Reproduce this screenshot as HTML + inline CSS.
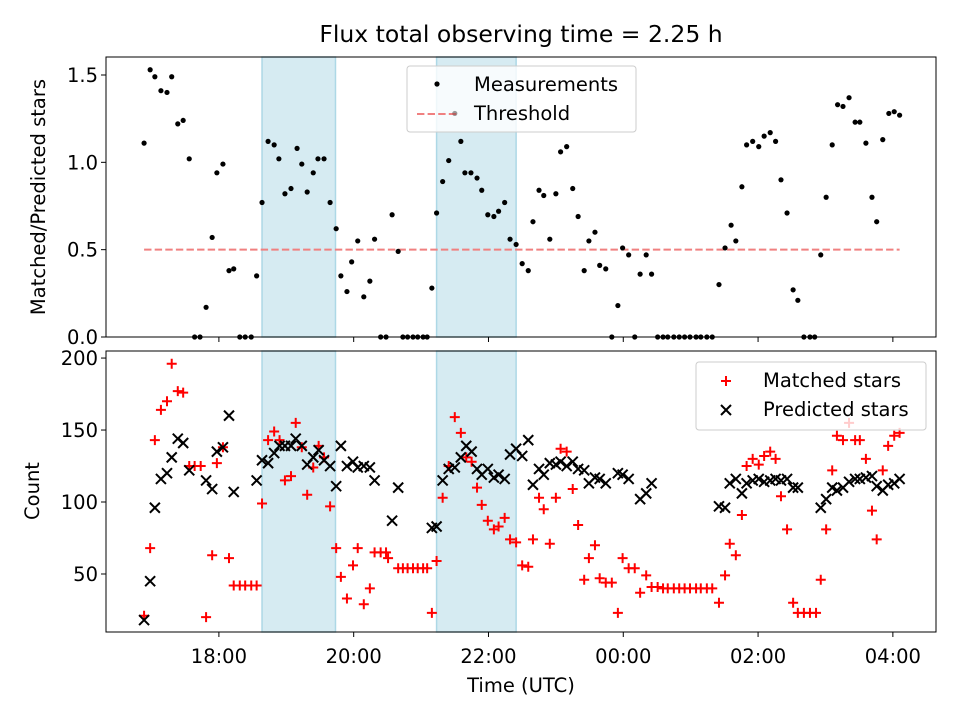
<!DOCTYPE html>
<html><head><meta charset="utf-8"><style>
html,body{margin:0;padding:0;background:#fff}
svg{display:block;font-family:"DejaVu Sans","Liberation Sans",sans-serif}
</style></head><body>
<svg id="chart" width="960" height="720" viewBox="0 0 960 720" xmlns="http://www.w3.org/2000/svg"></svg>
<script>
// times in hours after 16:00 UTC
const ratioTimes=[0.89,0.98,1.05,1.14,1.23,1.30,1.39,1.47,1.56,1.64,1.72,1.81,1.90,1.97,2.06,2.15,2.22,2.31,2.39,2.48,2.56,2.64,2.73,2.82,2.89,2.98,3.07,3.16,3.23,3.31,3.40,3.47,3.56,3.65,3.74,3.81,3.90,3.97,4.06,4.15,4.24,4.31,4.40,4.48,4.57,4.66,4.73,4.80,4.88,4.95,5.03,5.09,5.16,5.23,5.32,5.41,5.50,5.59,5.65,5.74,5.83,5.90,5.99,6.08,6.15,6.24,6.32,6.41,6.50,6.59,6.66,6.75,6.82,6.91,7.00,7.07,7.16,7.25,7.33,7.42,7.49,7.58,7.65,7.74,7.83,7.92,7.99,8.08,8.17,8.25,8.34,8.42,8.51,8.59,8.66,8.75,8.83,8.91,8.99,9.08,9.15,9.24,9.32,9.42,9.51,9.60,9.67,9.76,9.83,9.92,10.01,10.09,10.18,10.26,10.34,10.43,10.52,10.59,10.68,10.77,10.84,10.93,11.01,11.10,11.18,11.26,11.35,11.44,11.51,11.60,11.69,11.76,11.85,11.94,12.02,12.10];
const ratioValues=[1.11,1.53,1.49,1.41,1.40,1.49,1.22,1.24,1.02,0,0,0.17,0.57,0.94,0.99,0.38,0.39,0,0,0,0.35,0.77,1.12,1.10,1.02,0.82,0.85,1.08,0.99,0.83,0.94,1.02,1.02,0.77,0.62,0.35,0.26,0.43,0.55,0.23,0.32,0.56,0,0,0.70,0.49,0,0,0,0,0,0,0.28,0.71,0.89,1.01,1.28,1.12,0.94,0.94,0.91,0.84,0.70,0.69,0.72,0.77,0.56,0.53,0.42,0.38,0.66,0.84,0.81,0.56,0.82,1.06,1.09,0.85,0.69,0.38,0.55,0.60,0.41,0.39,0,0.18,0.51,0.47,0,0.36,0.47,0.36,0,0,0,0,0,0,0,0,0,0,0,0.30,0.51,0.64,0.55,0.86,1.10,1.12,1.09,1.15,1.17,1.12,0.90,0.71,0.27,0.21,0,0,0,0.47,0.80,1.10,1.33,1.32,1.37,1.23,1.23,1.11,0.80,0.66,1.13,1.28,1.29,1.27];
const thresholdValue=0.5;
const matchedTimes=[0.89,0.98,1.05,1.14,1.23,1.30,1.39,1.47,1.56,1.64,1.73,1.81,1.90,1.97,2.06,2.15,2.22,2.31,2.39,2.48,2.56,2.64,2.73,2.82,2.90,2.98,3.07,3.14,3.23,3.31,3.40,3.48,3.56,3.65,3.74,3.81,3.90,3.99,4.06,4.15,4.24,4.31,4.40,4.48,4.51,4.66,4.73,4.80,4.88,4.95,5.03,5.09,5.16,5.23,5.32,5.41,5.50,5.59,5.67,5.75,5.83,5.90,5.99,6.08,6.15,6.24,6.32,6.41,6.50,6.59,6.66,6.75,6.82,6.91,7.00,7.07,7.16,7.25,7.33,7.42,7.49,7.58,7.65,7.74,7.83,7.92,7.99,8.08,8.17,8.25,8.34,8.42,8.51,8.59,8.66,8.75,8.83,8.91,8.99,9.08,9.15,9.24,9.32,9.42,9.51,9.58,9.67,9.76,9.83,9.92,10.01,10.09,10.18,10.26,10.34,10.43,10.52,10.59,10.68,10.77,10.86,10.93,11.01,11.10,11.17,11.26,11.35,11.44,11.51,11.60,11.69,11.76,11.85,11.93,12.02,12.10];
const matchedValues=[21,68,143,164,170,196,177,176,125,125,125,20,63,127,138,61,42,42,42,42,42,99,143,149,143,115,118,155,138,105,124,139,131,97,68,48,33,56,68,29,40,65,65,65,61,54,54,54,54,54,54,54,23,59,103,125,159,148,131,128,110,98,87,81,83,89,74,72,56,55,74,103,95,71,103,137,135,109,84,46,61,70,47,44,44,23,61,54,54,37,49,41,41,40,40,40,40,40,40,40,40,40,40,30,49,71,63,91,125,130,126,132,135,130,104,81,30,23,23,23,23,46,81,122,146,143,155,143,143,130,94,74,122,139,146,148];
const predictedTimes=[0.89,0.98,1.05,1.14,1.23,1.30,1.39,1.47,1.56,1.81,1.90,1.97,2.06,2.15,2.22,2.56,2.64,2.73,2.82,2.90,2.98,3.07,3.14,3.23,3.31,3.40,3.48,3.56,3.65,3.74,3.81,3.90,3.99,4.06,4.15,4.24,4.31,4.57,4.66,5.16,5.23,5.32,5.41,5.50,5.59,5.67,5.75,5.83,5.90,5.99,6.08,6.15,6.24,6.32,6.41,6.50,6.59,6.66,6.75,6.82,6.91,7.00,7.07,7.16,7.25,7.33,7.42,7.49,7.58,7.65,7.74,7.92,7.99,8.08,8.25,8.34,8.42,9.42,9.51,9.58,9.67,9.76,9.83,9.92,10.01,10.09,10.18,10.26,10.34,10.43,10.52,10.59,10.93,11.01,11.10,11.17,11.26,11.35,11.44,11.51,11.60,11.69,11.76,11.85,11.93,12.02,12.10];
const predictedValues=[18,45,96,116,120,131,144,141,122,115,109,135,138,160,107,115,129,127,134,139,139,139,144,139,126,131,136,129,125,111,139,125,128,124,125,124,115,87,110,82,83,115,123,124,131,139,135,123,119,123,117,119,116,133,137,132,143,112,123,119,127,126,128,125,128,123,122,113,117,116,113,120,119,116,102,106,113,97,96,113,116,106,113,115,116,114,115,116,115,116,110,110,96,102,110,108,110,114,116,116,117,118,111,108,112,113,116];
const shadeBands=[[2.64,3.73],[5.23,6.41]];
const xTicks=[2,4,6,8,10,12];
const xTickLabels=["18:00","20:00","22:00","00:00","02:00","04:00"];
const topTicks=[0,0.5,1.0,1.5];
const topTickLabels=["0.0","0.5","1.0","1.5"];
const botTicks=[50,100,150,200];
const botTickLabels=["50","100","150","200"];

const NS="http://www.w3.org/2000/svg";
const svg=document.getElementById('chart');
function mk(tag,attrs,parent){const e=document.createElementNS(NS,tag);for(const k in attrs)e.setAttribute(k,attrs[k]);(parent||svg).appendChild(e);return e;}
const L=106,R=936,T1=57,B1=337,T2=351,B2=632;
const FS=19.5;
const xMin=0.325,xMax=12.64;
function X(h){return L+(h-xMin)/(xMax-xMin)*(R-L);}
function Y1(v){return B1-(v-0)/(1.603-0)*(B1-T1);}
function Y2(v){return B2-(v-9.7)/(204.9-9.7)*(B2-T2);}

let t=mk('text',{x:521,y:42,'text-anchor':'middle','font-size':23.5});t.textContent='Flux total observing time = 2.25 h';



function panel(top,bot,name){
  const g=mk('g',{});
  
  
  shadeBands.forEach((b,i)=>{
    const r=mk('rect',{x:X(b[0]),y:top,width:X(b[1])-X(b[0]),height:bot-top,fill:'#add8e6','fill-opacity':0.5,stroke:'#add8e6','stroke-width':1.5},g);
    
    
  });
  return g;
}
const g1=panel(T1,B1,'ratio-panel');
const g2=panel(T2,B2,'count-panel');

const th=mk('line',{x1:X(ratioTimes[0]),x2:X(ratioTimes[ratioTimes.length-1]),y1:Y1(thresholdValue),y2:Y1(thresholdValue),stroke:'#f08080','stroke-width':2,'stroke-dasharray':'7.4,3.2'},g1);



ratioTimes.forEach((h,i)=>{
  const c=mk('circle',{cx:X(h),cy:Y1(ratioValues[i]),r:2.6,fill:'#000'},g1);
  
  
});
function plus(x,y,parent){return mk('path',{d:`M${x-5},${y}H${x+5}M${x},${y-5}V${y+5}`,stroke:'#f00','stroke-width':2,fill:'none'},parent);}
function cross(x,y,parent){return mk('path',{d:`M${x-5},${y-5}L${x+5},${y+5}M${x-5},${y+5}L${x+5},${y-5}`,stroke:'#000','stroke-width':2,fill:'none'},parent);}
matchedTimes.forEach((h,i)=>{
  const p=plus(X(h),Y2(matchedValues[i]),g2);
  
  
});
predictedTimes.forEach((h,i)=>{
  const p=cross(X(h),Y2(predictedValues[i]),g2);
  
  
});

function frame(top,bot,name,ticks,labels,Yf,showX){
  const f=mk('rect',{x:L,y:top,width:R-L,height:bot-top,fill:'none',stroke:'#000','stroke-width':1});
  
  
  ticks.forEach((v,i)=>{
    const y=Yf(v);
    mk('line',{x1:L-5,x2:L,y1:y,y2:y,stroke:'#000','stroke-width':1});
    const tx=mk('text',{x:L-8,y:y+7,'text-anchor':'end','font-size':FS});tx.textContent=labels[i];
    
    
  });
  xTicks.forEach((h,i)=>{
    const x=X(h);
    mk('line',{x1:x,x2:x,y1:bot,y2:bot+5,stroke:'#000','stroke-width':1});
    if(showX){const tx=mk('text',{x:x,y:bot+31,'text-anchor':'middle','font-size':FS});tx.textContent=xTickLabels[i];
      
      }
  });
}
frame(T1,B1,'ratio',topTicks,topTickLabels,Y1,false);
frame(T2,B2,'count',botTicks,botTickLabels,Y2,true);

let yl=mk('text',{x:0,y:0,'text-anchor':'middle','font-size':FS,transform:'translate(45,197) rotate(-90)'});yl.textContent='Matched/Predicted stars';


let yl2=mk('text',{x:0,y:0,'text-anchor':'middle','font-size':FS,transform:'translate(39,491) rotate(-90)'});yl2.textContent='Count';


let xl=mk('text',{x:521,y:692,'text-anchor':'middle','font-size':FS});xl.textContent='Time (UTC)';



const lg1=mk('g',{});


mk('rect',{x:407,y:66,width:229,height:66,rx:3,fill:'#fff','fill-opacity':0.8,stroke:'#ccc','stroke-width':1},lg1);
mk('circle',{cx:437,cy:84,r:2.6,fill:'#000'},lg1);
let a=mk('text',{x:474,y:91,'font-size':FS},lg1);a.textContent='Measurements';


mk('line',{x1:417,x2:457,y1:114,y2:114,stroke:'#f08080','stroke-width':2,'stroke-dasharray':'7.4,3.2'},lg1);
let b=mk('text',{x:474,y:120,'font-size':FS},lg1);b.textContent='Threshold';


mk('circle',{cx:X(5.50),cy:Y1(1.28),r:2.6,fill:'#000','fill-opacity':0.25},lg1);

const lg2=mk('g',{});


mk('rect',{x:696,y:362,width:230,height:68,rx:3,fill:'#fff','fill-opacity':0.8,stroke:'#ccc','stroke-width':1},lg2);
plus(726,381,lg2);
let c=mk('text',{x:763,y:387,'font-size':FS},lg2);c.textContent='Matched stars';


cross(726,410,lg2);
let d=mk('text',{x:763,y:416,'font-size':FS},lg2);d.textContent='Predicted stars';


</script>
</body></html>
